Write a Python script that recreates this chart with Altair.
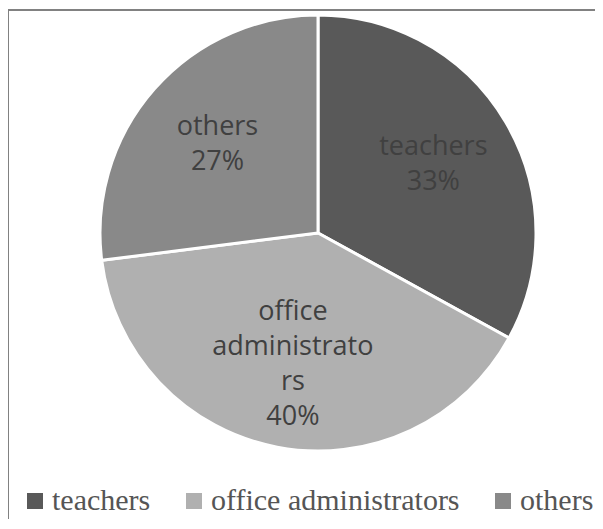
import altair as alt
import pandas as pd

categories = ["teachers", "office administrators", "others"]
shares = [33, 40, 27]
slice_labels = ["teachers", "office\nadministrato\nrs", "others"]
colors = ["#595959", "#b0b0b0", "#898989"]
order = [0, 1, 2]

df = pd.DataFrame({
    "category": categories,
    "share": shares,
    "label": [f"{l}\n{s}%" for l, s in zip(slice_labels, shares)],
    "rank": order,
})

W, H = 587, 509
LH = 35

base = alt.Chart(df).encode(
    theta=alt.Theta("share:Q", stack=True),
    order=alt.Order("rank:Q"),
    x=alt.value(310),
    y=alt.value(223),
)

arcs = base.mark_arc(outerRadius=218, stroke="white", strokeWidth=3).encode(
    color=alt.Color(
        "category:N",
        scale=alt.Scale(domain=categories, range=colors),
        legend=alt.Legend(
            title=None,
            orient="none",
            legendX=12,
            legendY=476,
            direction="horizontal",
            symbolType="square",
            symbolSize=256,
            symbolStrokeWidth=0,
            labelFont="Liberation Serif",
            labelFontSize=30,
            labelColor="#555555",
            labelLimit=400,
            labelOffset=2,
            columnPadding=28,
            padding=0,
        ),
    )
)

text = base.transform_calculate(
    nlines="length(split(datum.label, '\\n'))"
).mark_text(
    radius=134,
    font="Open Sans",
    fontSize=27,
    lineBreak="\n",
    lineHeight=LH,
    color="#404040",
    align="center",
    baseline="middle",
    dy=alt.expr(f"-(datum.nlines - 1) * {LH / 2}"),
).encode(text="label:N")

left_rule = alt.Chart(df).mark_rule(color="#7f7f7f", strokeWidth=1.5).encode(
    x=alt.value(0), y=alt.value(0), y2=alt.value(H)
)
top_rule = alt.Chart(df).mark_rule(color="#7f7f7f", strokeWidth=1.5).encode(
    x=alt.value(0), x2=alt.value(W), y=alt.value(0)
)

chart = (
    alt.layer(arcs, text, left_rule, top_rule)
    .properties(
        width=W,
        height=H,
        padding={"left": 0, "top": 2, "right": 0, "bottom": 0},
        autosize=alt.AutoSizeParams(type="none"),
    )
    .configure_view(stroke=None)
)

chart.save("out.html", embed_options={"renderer": "svg", "actions": False})
